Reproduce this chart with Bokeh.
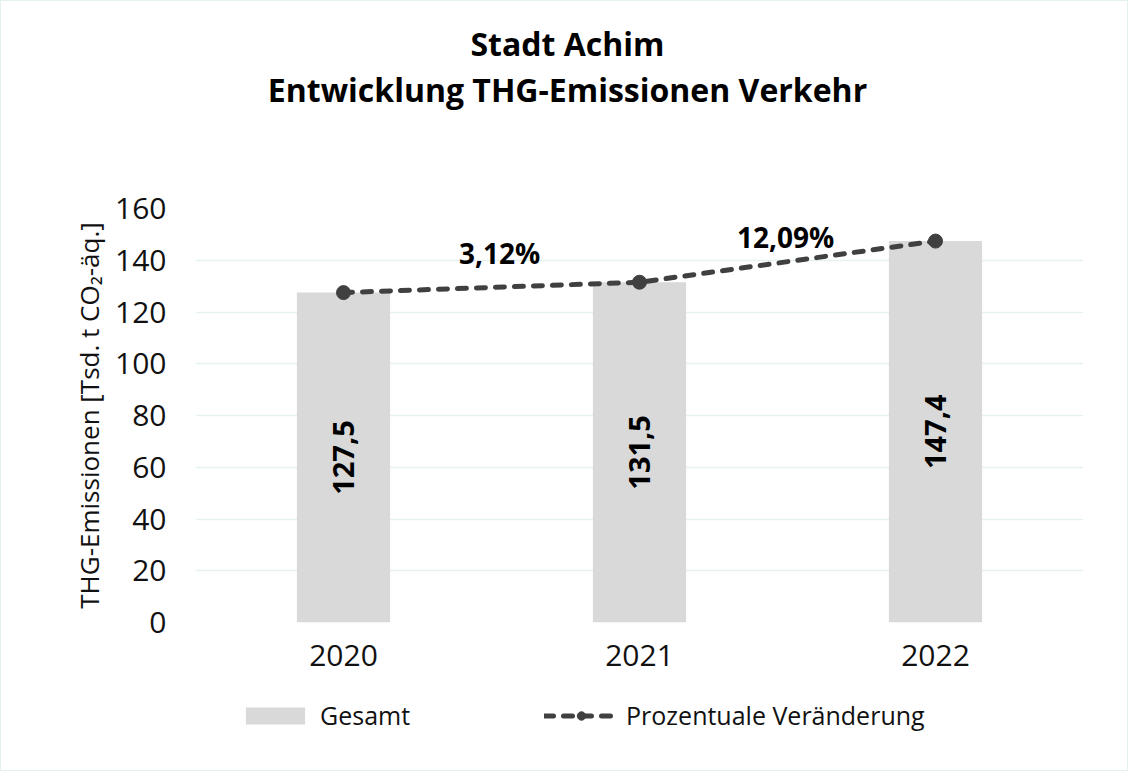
import math
from bokeh.plotting import figure
from bokeh.layouts import column
from bokeh.models import (ColumnDataSource, Range1d, FactorRange, Label, Legend,
                          LegendItem, SingleIntervalTicker)
from bokeh.transform import dodge
from bokeh.embed import file_html
from bokeh.resources import INLINE
from bokeh.core.properties import value

# ---- data ----
years = ["2020", "2021", "2022"]
gesamt = [127.5, 131.5, 147.4]
gesamt_labels = ["127,5", "131,5", "147,4"]
change_from = ["2020", "2021"]
change_labels = ["3,12%", "12,09%"]
title_line1 = "Stadt Achim"
title_line2 = "Entwicklung THG-Emissionen Verkehr"
y_label = "THG-Emissionen [Tsd. t CO\u2082-\u00e4q.]"
legend_labels = ["Gesamt", "Prozentuale Ver\u00e4nderung"]

FONT = "Open Sans"
BAR = "#d9d9d9"
LINE = "#404040"
GRID = "#e4f2f0"
TXT = "#111111"
W = 1126
BL, BR = 194, 44          # side borders shared by all three strips

# ---------- title strip ----------
pt = figure(width=W, height=150, x_range=Range1d(BL, W - BR), y_range=Range1d(0, 150),
            x_axis_type=None, y_axis_type=None, output_backend="svg",
            toolbar_location=None, min_border_left=BL, min_border_right=BR,
            min_border_top=0, min_border_bottom=0)
pt.outline_line_color = None
pt.grid.visible = False
for txt, yy in ((title_line1, 108), (title_line2, 62)):
    pt.add_layout(Label(x=566, y=yy, text=txt, text_align="center",
                        text_baseline="alphabetic", text_font=FONT,
                        text_font_style="bold", text_font_size="32px",
                        text_color="#000000"))

# ---------- main chart ----------
p = figure(x_range=FactorRange(*years, range_padding=0), y_range=Range1d(0, 160),
           width=W, height=540, output_backend="svg", toolbar_location=None,
           min_border_left=BL, min_border_right=BR, min_border_top=57,
           min_border_bottom=69)
p.outline_line_color = None

src = ColumnDataSource(dict(years=years, gesamt=gesamt, labels=gesamt_labels,
                            mid=[v / 2 for v in gesamt]))
p.vbar(x="years", top="gesamt", width=0.315, source=src, fill_color=BAR,
       line_color=None)
p.line(x="years", y="gesamt", source=src, line_color=LINE, line_width=5,
       line_dash="9 10", line_cap="round")
p.scatter(x="years", y="gesamt", source=src, size=14, fill_color=LINE,
          line_color=LINE)

p.text(x="years", y="mid", text="labels", source=src, angle=math.pi / 2,
       text_align="center", text_baseline="middle",
       text_font=value(FONT), text_font_style="bold", text_font_size="29px",
       text_color="#000000")

chg_src = ColumnDataSource(dict(x=change_from,
                                y=[max(a, b) for a, b in zip(gesamt[:-1], gesamt[1:])],
                                labels=change_labels, yoff=[-29, -4], xoff=[8, -2]))
p.text(x=dodge("x", 0.5, range=p.x_range), y="y", text="labels", source=chg_src,
       x_offset="xoff", y_offset="yoff", text_align="center", text_baseline="middle",
       text_font=value(FONT), text_font_style="bold", text_font_size="28px",
       text_color="#000000")

p.yaxis.ticker = SingleIntervalTicker(interval=20)
p.yaxis.axis_line_color = None
p.yaxis.major_tick_line_color = None
p.yaxis.minor_tick_line_color = None
p.yaxis.major_label_standoff = 23
p.yaxis.major_label_text_font = FONT
p.yaxis.major_label_text_font_size = "30px"
p.yaxis.major_label_text_color = TXT
p.yaxis.axis_label = y_label
p.yaxis.axis_label_text_font = FONT
p.yaxis.axis_label_text_font_style = "normal"
p.yaxis.axis_label_text_font_size = "26px"
p.yaxis.axis_label_text_color = TXT
p.yaxis.axis_label_standoff = 5

p.xaxis.axis_line_color = None
p.xaxis.major_tick_line_color = None
p.xaxis.minor_tick_line_color = None
p.xaxis.major_label_standoff = 16
p.xaxis.major_label_text_font = FONT
p.xaxis.major_label_text_font_size = "30px"
p.xaxis.major_label_text_color = TXT

p.xgrid.grid_line_color = None
p.ygrid.grid_line_color = GRID
p.ygrid.grid_line_width = 1.5

# ---------- legend strip (same series, plotted outside its visible range) ----------
pl = figure(width=W, height=79, x_range=FactorRange(*years), y_range=Range1d(1000, 1001),
            x_axis_type=None, y_axis_type=None, output_backend="svg",
            toolbar_location=None, min_border_left=BL, min_border_right=BR,
            min_border_top=0, min_border_bottom=0)
pl.outline_line_color = None
pl.grid.visible = False
lb = pl.vbar(x="years", top="gesamt", width=0.315, source=src, fill_color=BAR,
             line_color=None)
ll = pl.line(x="years", y="gesamt", source=src, line_color=LINE, line_width=5,
             line_dash="9 10", line_cap="round")
ls = pl.scatter(x="years", y="gesamt", source=src, size=14, fill_color=LINE,
                line_color=LINE)
legend = Legend(items=[LegendItem(label=legend_labels[0], renderers=[lb]),
                       LegendItem(label=legend_labels[1], renderers=[ll, ls])],
                orientation="horizontal", location=(237 - BL, 38), padding=0, margin=0,
                spacing=134, glyph_width=74, glyph_height=21, label_standoff=8,
                label_text_font=FONT, label_text_font_size="25px",
                label_text_color=TXT, border_line_color=None,
                background_fill_alpha=0)
pl.add_layout(legend, "center")

layout = column(pt, p, pl, spacing=0, styles={"border": "1px solid #e4f1ef"})
open("out.html", "w").write(file_html(layout, INLINE))
